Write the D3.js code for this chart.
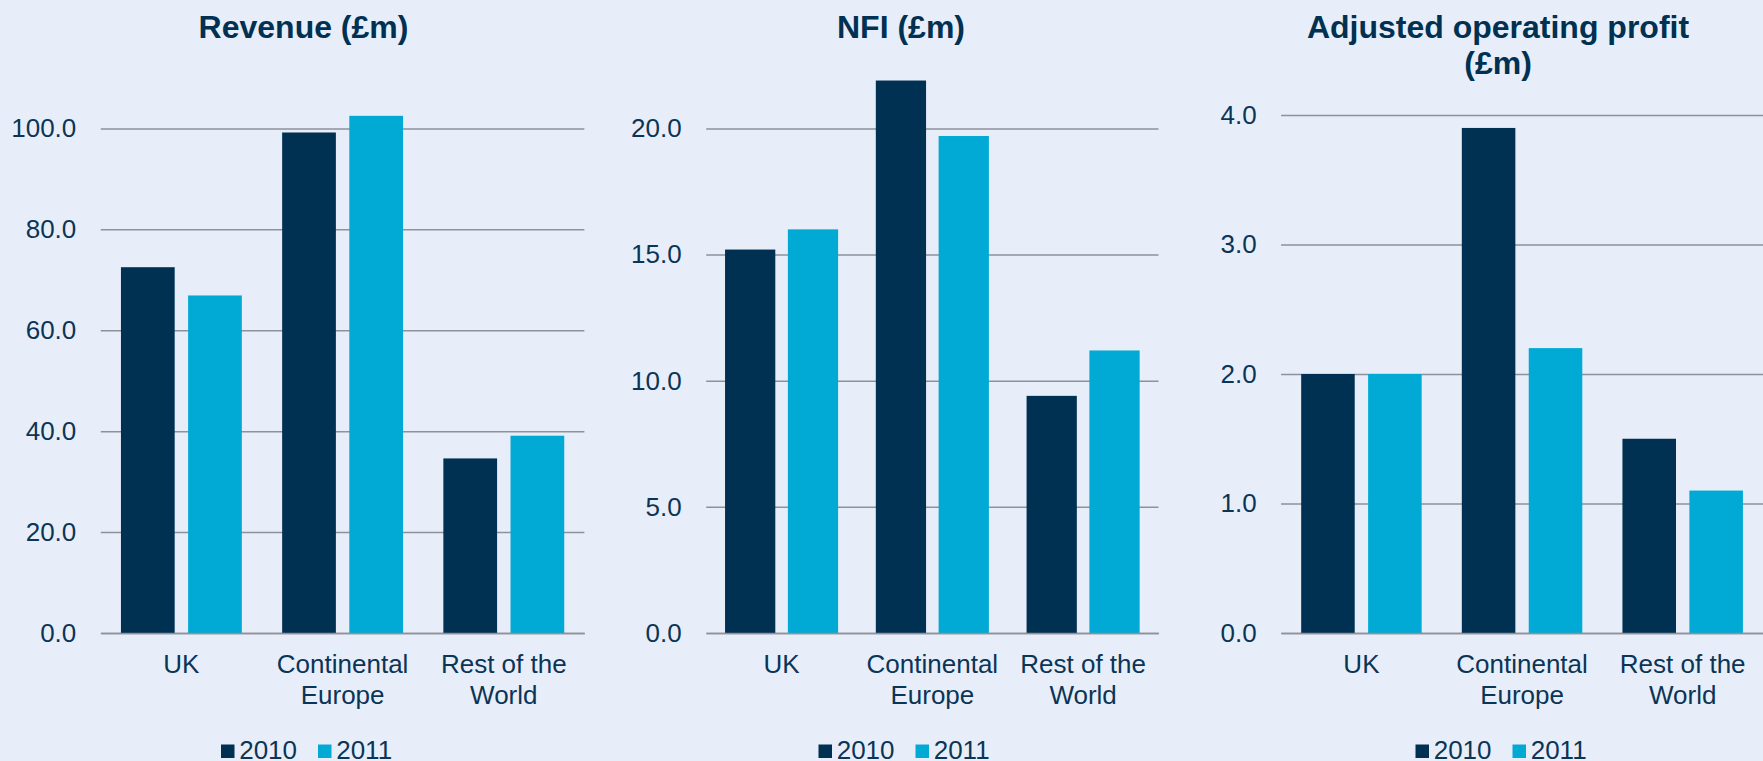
<!DOCTYPE html>
<html>
<head>
<meta charset="utf-8">
<script src="https://cdn.jsdelivr.net/npm/d3@7"></script>
<style>
  body { margin: 0; background: #e8eef9; }
  text { font-family: "Liberation Sans", Arial, sans-serif; fill: #0b3556; }
  .title { font-weight: bold; font-size: 32px; fill: #003152; }
  .tick text { font-size: 26px; }
  .legend text { font-size: 26px; }
</style>
</head>
<body>
<svg id="chart"></svg>
<script>
var svgWidth = 1763;
var svgHeight = 761;

// data
var categories = ["UK", "Continental Europe", "Rest of the World"];
var years = ["2010", "2011"];

var revenue2010 = [72.5, 99.2, 34.6];
var revenue2011 = [66.9, 102.5, 39.1];
var nfi2010 = [15.2, 21.9, 9.4];
var nfi2011 = [16.0, 19.7, 11.2];
var profit2010 = [2.0, 3.9, 1.5];
var profit2011 = [2.0, 2.2, 1.1];

var revenueTicks = [0, 20, 40, 60, 80, 100];
var nfiTicks = [0, 5, 10, 15, 20];
var profitTicks = [0, 1, 2, 3, 4];

var titles = ["Revenue (£m)", "NFI (£m)", "Adjusted operating profit (£m)"];

var colors = { "2010": "#003152", "2011": "#00aad4" };
var gridColor = "#8d9199";

// layout of the three panels
var panels = [
  { title: titles[0], s2010: revenue2010, s2011: revenue2011, ticks: revenueTicks, yMax: 110, left: 100.8, right: 584.4, top: 78, center: 303.5 },
  { title: titles[1], s2010: nfi2010, s2011: nfi2011, ticks: nfiTicks, yMax: 22, left: 706.2, right: 1158.5, top: 78, center: 901 },
  { title: titles[2], s2010: profit2010, s2011: profit2011, ticks: profitTicks, yMax: 4, left: 1281.1, right: 1763, top: 115, center: 1498 }
];
var baseY = 633;

var svg = d3.select("#chart")
  .attr("width", svgWidth)
  .attr("height", svgHeight);

// wrap text onto several lines (tspans) when wider than width
function wrap(text, width, lineHeight) {
  text.each(function() {
    var t = d3.select(this);
    var words = t.text().split(/\s+/);
    var x = t.attr("x") || 0;
    var y = t.attr("y") || 0;
    var dy = parseFloat(t.attr("dy")) || 0;
    t.text(null);
    var line = [];
    var lineNo = 0;
    var tspan = t.append("tspan").attr("x", x).attr("y", y).attr("dy", dy + "em");
    words.forEach(function(w) {
      line.push(w);
      tspan.text(line.join(" "));
      if (tspan.node().getComputedTextLength() > width && line.length > 1) {
        line.pop();
        tspan.text(line.join(" "));
        line = [w];
        lineNo++;
        tspan = t.append("tspan").attr("x", x).attr("y", y)
          .attr("dy", (lineNo * lineHeight + dy) + "em").text(w);
      }
    });
  });
}

panels.forEach(function(p) {
  var data = categories.map(function(c, i) {
    return { cat: c, values: [ { year: "2010", v: p.s2010[i] }, { year: "2011", v: p.s2011[i] } ] };
  });

  var x0 = d3.scaleBand()
    .domain(categories)
    .range([p.left, p.right]);

  var x1 = d3.scaleBand()
    .domain(years)
    .range([0, x0.bandwidth()])
    .paddingInner(0.2)
    .paddingOuter(0.3);

  var y = d3.scaleLinear()
    .domain([0, p.yMax])
    .range([baseY, p.top]);

  // gridlines + y labels
  var leftAxis = d3.axisLeft(y)
    .tickValues(p.ticks)
    .tickFormat(d3.format(".1f"))
    .tickSize(-(p.right - p.left))
    .tickPadding(24.5);

  var yAxis = svg.append("g")
    .attr("transform", `translate(${p.left}, 0)`)
    .call(leftAxis);
  yAxis.select(".domain").remove();
  yAxis.selectAll(".tick line")
    .attr("stroke", gridColor)
    .attr("stroke-width", 1.5);

  // bars
  var groups = svg.selectAll(null)
    .data(data)
    .enter()
    .append("g")
    .attr("transform", d => `translate(${x0(d.cat)}, 0)`);

  groups.selectAll("rect")
    .data(d => d.values)
    .enter()
    .append("rect")
    .attr("x", d => x1(d.year))
    .attr("width", x1.bandwidth())
    .attr("y", d => y(d.v))
    .attr("height", d => y(0) - y(d.v))
    .attr("fill", d => colors[d.year]);

  // category axis
  var bottomAxis = d3.axisBottom(x0)
    .tickSize(0)
    .tickSizeOuter(0)
    .tickPadding(21.5);

  var xAxis = svg.append("g")
    .attr("transform", `translate(0, ${baseY})`)
    .call(bottomAxis);
  xAxis.select(".domain")
    .attr("stroke", gridColor)
    .attr("stroke-width", 1.5);
  xAxis.selectAll(".tick text")
    .call(wrap, x0.bandwidth(), 1.18);

  // title
  svg.append("text")
    .attr("class", "title")
    .attr("x", p.center)
    .attr("y", 38.3)
    .attr("text-anchor", "middle")
    .text(p.title)
    .call(wrap, 420, 1.13);

  // legend
  var legend = svg.append("g")
    .attr("class", "legend")
    .attr("transform", `translate(${p.center - 82.5}, 0)`);

  var items = legend.selectAll("g")
    .data(years)
    .enter()
    .append("g")
    .attr("transform", (d, i) => `translate(${i * 97}, 0)`);

  items.append("rect")
    .attr("x", 0)
    .attr("y", 744.5)
    .attr("width", 13.5)
    .attr("height", 13.5)
    .attr("fill", d => colors[d]);

  items.append("text")
    .attr("x", 18.2)
    .attr("y", 758.5)
    .text(d => d);
});
</script>
</body>
</html>
